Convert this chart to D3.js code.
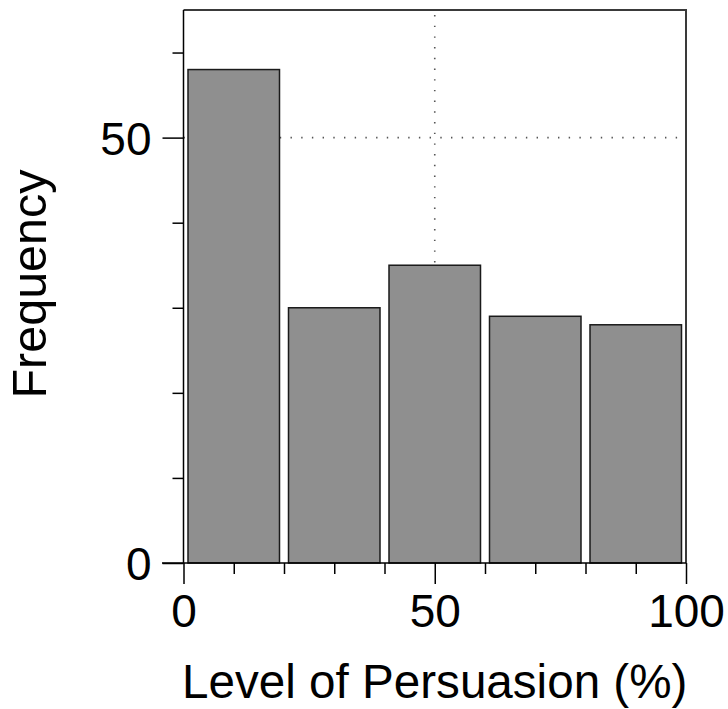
<!DOCTYPE html>
<html>
<head>
<meta charset="utf-8">
<script src="https://cdn.jsdelivr.net/npm/d3@7"></script>
<style>
html, body { margin: 0; padding: 0; background: #fff; }
svg { display: block; }
text { font-family: "Liberation Sans", Arial, Helvetica, sans-serif; fill: #000; }
</style>
</head>
<body>
<svg id="chart" width="728" height="709"></svg>
<script>
const binStarts = [0, 20, 40, 60, 80];
const binEnds = [20, 40, 60, 80, 100];
const frequencies = [58, 30, 35, 29, 28];
const xMajorTicks = [0, 50, 100];
const xMinorTicks = [10, 20, 30, 40, 60, 70, 80, 90];
const yMajorTicks = [0, 50];
const yMinorTicks = [10, 20, 30, 40, 60];
const xTitle = "Level of Persuasion (%)";
const yTitle = "Frequency";

(function () {
const svg = d3.select("#chart");
const pLeft = 183.5, pRight = 686, pTop = 10, pBottom = 563;
const x = d3.scaleLinear().domain([0, 100]).range([pLeft, pRight]);
const y = d3.scaleLinear().domain([0, 65]).range([pBottom, pTop]);

// grid (behind bars)
const grid = svg.append("g").attr("stroke", "#555").attr("stroke-width", 1.6)
  .attr("stroke-dasharray", "1.4,9.3");
grid.append("line").attr("x1", x(0)).attr("x2", x(100)).attr("y1", y(50)).attr("y2", y(50));
grid.append("line").attr("x1", x(50)).attr("x2", x(50)).attr("y1", y(65) + 5).attr("y2", y(0));

// bars
const bins = binStarts.map((s, i) => ({ x0: s, x1: binEnds[i], f: frequencies[i] }));
svg.append("g").selectAll("rect").data(bins).join("rect")
  .attr("x", d => x(d.x0) + 4.5)
  .attr("width", d => x(d.x1) - x(d.x0) - 9)
  .attr("y", d => y(d.f))
  .attr("height", d => y(0) - y(d.f))
  .attr("fill", "#8f8f8f")
  .attr("stroke", "#1a1a1a")
  .attr("stroke-width", 1.5);

// frame top / right
svg.append("path")
  .attr("d", `M${x(0)},${y(65)}H${x(100)}V${y(0)}`)
  .attr("fill", "none").attr("stroke", "#3a3a3a").attr("stroke-width", 2);

// x axis
const xAxisG = svg.append("g").attr("transform", `translate(0,${pBottom})`);
xAxisG.call(d3.axisBottom(x).tickValues(xMinorTicks).tickSize(11).tickFormat(""))
  .call(g => g.select(".domain").remove());
xAxisG.append("g").call(d3.axisBottom(x).tickValues(xMajorTicks).tickSize(21).tickPadding(8).tickFormat(d3.format("d")))
  .call(g => g.select(".domain").remove())
  .call(g => g.selectAll("text").attr("font-size", 46).attr("dy", null).attr("y", 64)
    .style("font-family", '"Liberation Sans", Arial, sans-serif'));
xAxisG.selectAll("line").attr("stroke", "#000").attr("stroke-width", 1.5);
svg.append("line").attr("x1", 162).attr("x2", x(100)).attr("y1", pBottom).attr("y2", pBottom)
  .attr("stroke", "#000").attr("stroke-width", 1.5);

// y axis
const yAxisG = svg.append("g").attr("transform", `translate(${pLeft},0)`);
yAxisG.call(d3.axisLeft(y).tickValues(yMinorTicks).tickSize(11).tickFormat(""))
  .call(g => g.select(".domain").remove());
yAxisG.append("g").call(d3.axisLeft(y).tickValues(yMajorTicks).tickSize(21).tickPadding(11).tickFormat(d3.format("d")))
  .call(g => g.select(".domain").remove())
  .call(g => g.selectAll("text").attr("font-size", 46).attr("dy", "0.36em")
    .style("font-family", '"Liberation Sans", Arial, sans-serif'));
yAxisG.selectAll("line").attr("stroke", "#000").attr("stroke-width", 1.5);
svg.append("line").attr("x1", pLeft).attr("x2", pLeft).attr("y1", pTop).attr("y2", pBottom)
  .attr("stroke", "#000").attr("stroke-width", 1.5);

// titles
svg.append("text").attr("x", (pLeft + pRight) / 2).attr("y", 698)
  .attr("text-anchor", "middle").attr("font-size", 47.6).text(xTitle);
svg.append("text").attr("transform", `translate(46,284) rotate(-90)`)
  .attr("text-anchor", "middle").attr("font-size", 48.5).text(yTitle);
})();
</script>
</body>
</html>
